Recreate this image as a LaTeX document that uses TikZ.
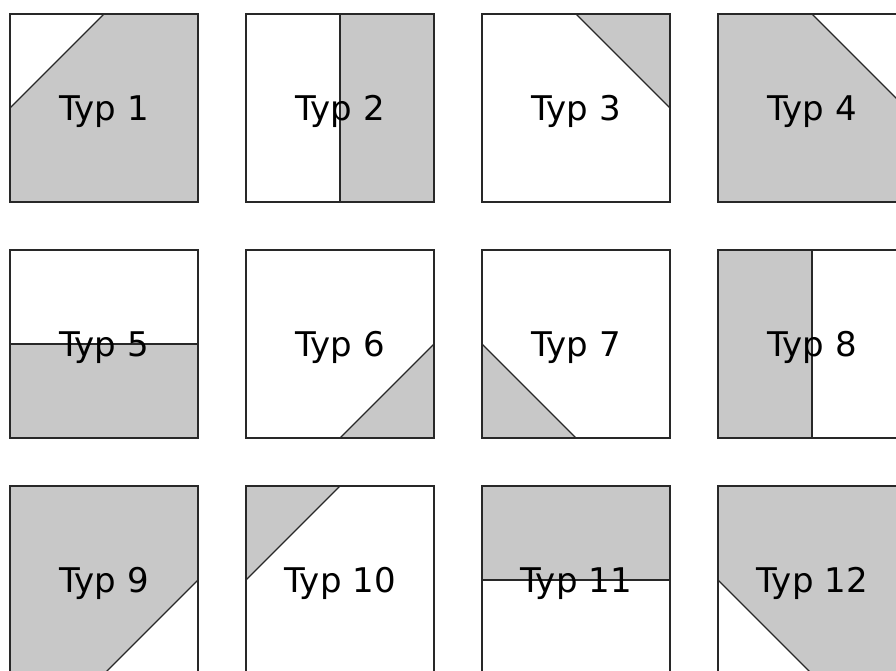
\documentclass[tikz,border=0pt]{standalone}
\usepackage{fontspec}
\setmainfont{DejaVu Sans}
\definecolor{shade}{RGB}{200,200,200}
\definecolor{edge}{RGB}{40,40,40}
\begin{document}
\begin{tikzpicture}[x=1pt,y=-1pt,
  sq/.style={minimum size=188pt,inner sep=0pt,outer sep=0pt,draw=none},
  shadefill/.style={fill=shade,draw=none},
  border/.style={draw=edge,line width=1.1pt},
  cut/.style={draw=edge,line width=1.1pt},
  lbl/.style={font=\fontsize{34}{34}\selectfont,anchor=base,inner sep=0pt,text=black}]
\useasboundingbox (0,0) rectangle (896,670);
\clip (0,0) rectangle (896,670);
\fill[white] (0,0) rectangle (896,670);
% square nodes
\node[sq] (s1) at (104,108) {};
\node[sq] (s2) at (340,108) {};
\node[sq] (s3) at (576,108) {};
\node[sq] (s4) at (812,108) {};
\node[sq] (s5) at (104,344) {};
\node[sq] (s6) at (340,344) {};
\node[sq] (s7) at (576,344) {};
\node[sq] (s8) at (812,344) {};
\node[sq] (s9) at (104,580) {};
\node[sq] (s10) at (340,580) {};
\node[sq] (s11) at (576,580) {};
\node[sq] (s12) at (812,580) {};
% shaded regions
\path[shadefill] (s1.north) -- (s1.north east) -- (s1.south east) -- (s1.south west) -- (s1.west) -- cycle;
\path[shadefill] (s2.north) -- (s2.north east) -- (s2.south east) -- (s2.south) -- cycle;
\path[shadefill] (s3.north) -- (s3.north east) -- (s3.east) -- cycle;
\path[shadefill] (s4.north west) -- (s4.north) -- (s4.east) -- (s4.south east) -- (s4.south west) -- cycle;
\path[shadefill] (s5.west) -- (s5.east) -- (s5.south east) -- (s5.south west) -- cycle;
\path[shadefill] (s6.south) -- (s6.east) -- (s6.south east) -- cycle;
\path[shadefill] (s7.west) -- (s7.south) -- (s7.south west) -- cycle;
\path[shadefill] (s8.north west) -- (s8.north) -- (s8.south) -- (s8.south west) -- cycle;
\path[shadefill] (s9.north west) -- (s9.north east) -- (s9.east) -- (s9.south) -- (s9.south west) -- cycle;
\path[shadefill] (s10.north west) -- (s10.north) -- (s10.west) -- cycle;
\path[shadefill] (s11.north west) -- (s11.north east) -- (s11.east) -- (s11.west) -- cycle;
\path[shadefill] (s12.north west) -- (s12.north east) -- (s12.south east) -- (s12.south) -- (s12.west) -- cycle;
% dividing lines
\draw[cut] (s1.north) -- (s1.west);
\draw[cut] (s2.north) -- (s2.south);
\draw[cut] (s3.north) -- (s3.east);
\draw[cut] (s4.north) -- (s4.east);
\draw[cut] (s5.west) -- (s5.east);
\draw[cut] (s6.south) -- (s6.east);
\draw[cut] (s7.west) -- (s7.south);
\draw[cut] (s8.north) -- (s8.south);
\draw[cut] (s9.east) -- (s9.south);
\draw[cut] (s10.west) -- (s10.north);
\draw[cut] (s11.west) -- (s11.east);
\draw[cut] (s12.west) -- (s12.south);
% borders
\foreach \i in {1,...,12} {
  \draw[border] (s\i.north west) rectangle (s\i.south east);
}
% labels
\node[lbl] (t1) at ([yshift=-12pt]s1.center) {Typ 1};
\node[lbl] (t2) at ([yshift=-12pt]s2.center) {Typ 2};
\node[lbl] (t3) at ([yshift=-12pt]s3.center) {Typ 3};
\node[lbl] (t4) at ([yshift=-12pt]s4.center) {Typ 4};
\node[lbl] (t5) at ([yshift=-12pt]s5.center) {Typ 5};
\node[lbl] (t6) at ([yshift=-12pt]s6.center) {Typ 6};
\node[lbl] (t7) at ([yshift=-12pt]s7.center) {Typ 7};
\node[lbl] (t8) at ([yshift=-12pt]s8.center) {Typ 8};
\node[lbl] (t9) at ([yshift=-12pt]s9.center) {Typ 9};
\node[lbl] (t10) at ([yshift=-12pt]s10.center) {Typ 10};
\node[lbl] (t11) at ([yshift=-12pt]s11.center) {Typ 11};
\node[lbl] (t12) at ([yshift=-12pt]s12.center) {Typ 12};
\end{tikzpicture}
\end{document}
